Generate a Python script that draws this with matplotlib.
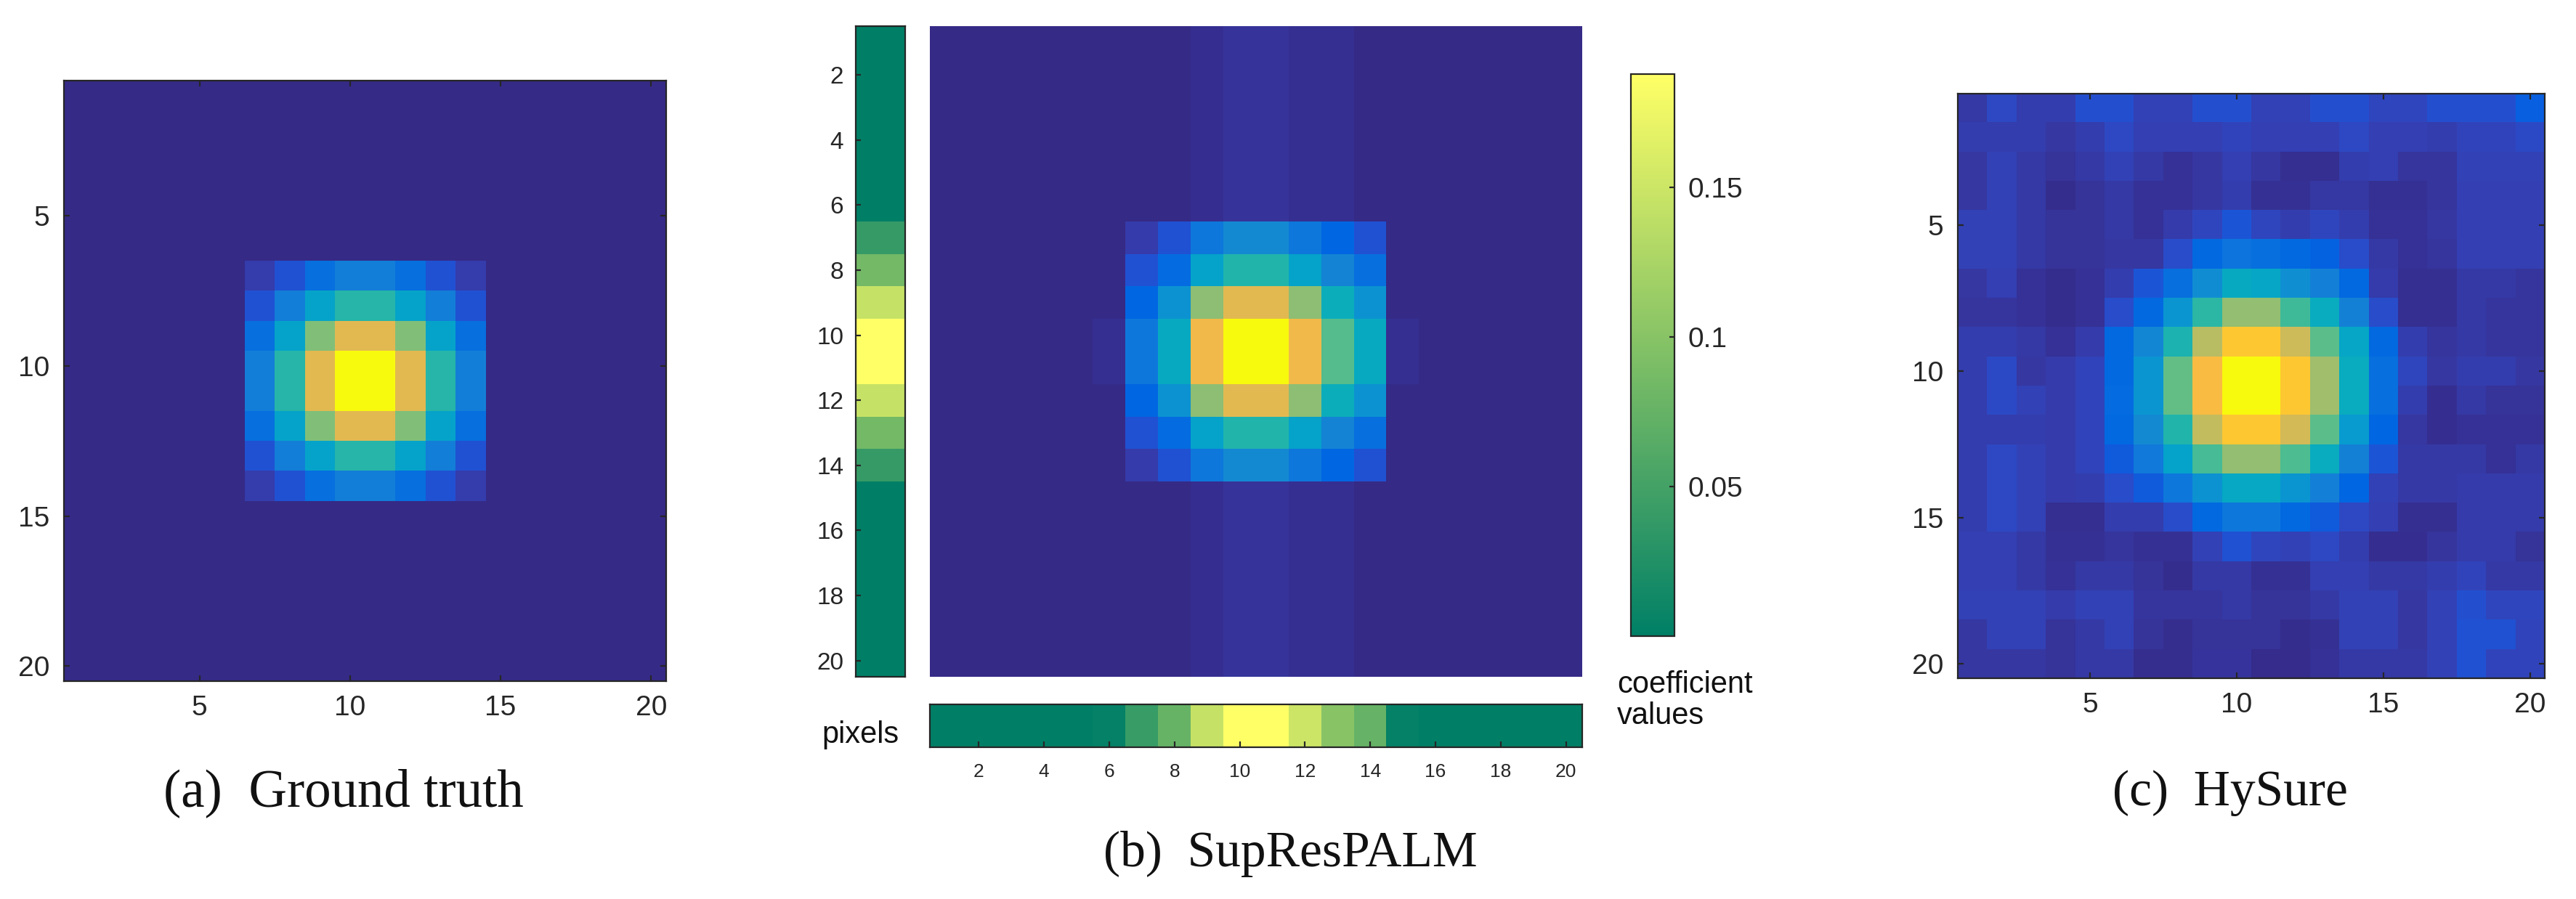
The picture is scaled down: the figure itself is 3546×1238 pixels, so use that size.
import numpy as np
import matplotlib
matplotlib.use('Agg')
import matplotlib.pyplot as plt
from matplotlib.colors import LinearSegmentedColormap

plt.rcParams['font.family'] = ['Liberation Sans', 'DejaVu Sans']

# MATLAB parula colours
parula_rgb = [
    [0.2081, 0.1663, 0.5292], [0.2116, 0.1898, 0.5777], [0.2123, 0.2138, 0.6270], [0.2081, 0.2386, 0.6771],
    [0.1959, 0.2645, 0.7279], [0.1707, 0.2919, 0.7792], [0.1253, 0.3242, 0.8303], [0.0591, 0.3598, 0.8683],
    [0.0117, 0.3875, 0.8820], [0.0060, 0.4086, 0.8828], [0.0165, 0.4266, 0.8786], [0.0329, 0.4430, 0.8720],
    [0.0498, 0.4586, 0.8641], [0.0629, 0.4737, 0.8554], [0.0723, 0.4887, 0.8467], [0.0779, 0.5040, 0.8384],
    [0.0793, 0.5200, 0.8312], [0.0749, 0.5375, 0.8263], [0.0641, 0.5570, 0.8240], [0.0488, 0.5772, 0.8228],
    [0.0343, 0.5966, 0.8199], [0.0265, 0.6137, 0.8135], [0.0239, 0.6287, 0.8038], [0.0231, 0.6418, 0.7913],
    [0.0228, 0.6535, 0.7768], [0.0267, 0.6642, 0.7607], [0.0384, 0.6743, 0.7436], [0.0590, 0.6838, 0.7254],
    [0.0843, 0.6928, 0.7062], [0.1133, 0.7015, 0.6859], [0.1453, 0.7098, 0.6646], [0.1801, 0.7177, 0.6424],
    [0.2178, 0.7250, 0.6193], [0.2586, 0.7317, 0.5954], [0.3022, 0.7376, 0.5712], [0.3482, 0.7424, 0.5473],
    [0.3953, 0.7459, 0.5244], [0.4420, 0.7481, 0.5033], [0.4871, 0.7491, 0.4840], [0.5300, 0.7491, 0.4661],
    [0.5709, 0.7485, 0.4494], [0.6099, 0.7473, 0.4337], [0.6473, 0.7456, 0.4188], [0.6834, 0.7435, 0.4044],
    [0.7184, 0.7411, 0.3905], [0.7525, 0.7384, 0.3768], [0.7858, 0.7356, 0.3633], [0.8185, 0.7327, 0.3498],
    [0.8507, 0.7299, 0.3360], [0.8824, 0.7274, 0.3217], [0.9139, 0.7258, 0.3063], [0.9450, 0.7261, 0.2886],
    [0.9739, 0.7314, 0.2666], [0.9938, 0.7455, 0.2403], [0.9990, 0.7653, 0.2164], [0.9955, 0.7861, 0.1967],
    [0.9880, 0.8066, 0.1794], [0.9789, 0.8271, 0.1633], [0.9697, 0.8481, 0.1475], [0.9626, 0.8705, 0.1309],
    [0.9589, 0.8949, 0.1132], [0.9598, 0.9218, 0.0948], [0.9661, 0.9514, 0.0755], [0.9763, 0.9831, 0.0538],
]
parula = LinearSegmentedColormap.from_list('parula', parula_rgb, N=512)

# ground truth, rows 7-14 / columns 7-14, the rest is zero
truth_block = [
    [.048, .095, .17, .23, .23, .17, .095, .048],
    [.095, .23, .365, .48, .48, .365, .23, .095],
    [.17, .365, .61, .78, .78, .61, .365, .17],
    [.23, .48, .78, 1, 1, .78, .48, .23],
    [.23, .48, .78, 1, 1, .78, .48, .23],
    [.17, .365, .61, .78, .78, .61, .365, .17],
    [.095, .23, .365, .48, .48, .365, .23, .095],
    [.048, .095, .17, .23, .23, .17, .095, .048],
]

# SupResPALM: faint vertical band per column, then the block, rows 7-14 / columns 6-15
palm_band = [0, 0, 0, 0, 0, 0, 0, 0, .012, .027, .027, .014, .014, 0, 0, 0, 0, 0, 0, 0]
palm_block = [
    [0, .045, .095, .20, .27, .27, .20, .14, .095, 0],
    [0, .095, .16, .36, .47, .47, .36, .25, .17, 0],
    [0, .14, .30, .63, .78, .78, .63, .42, .30, 0],
    [.015, .20, .40, .81, 1, 1, .81, .55, .40, .015],
    [.015, .20, .40, .81, 1, 1, .81, .55, .40, .015],
    [0, .14, .30, .63, .78, .78, .63, .42, .30, 0],
    [0, .095, .16, .36, .47, .47, .36, .25, .17, 0],
    [0, .045, .095, .20, .27, .27, .20, .14, .095, 0],
]
spectral_left = [0, 0, 0, 0, 0, 0, .04, .085, .146, .188, .188, .146, .085, .04, 0, 0, 0, 0, 0, 0]
spectral_bottom = [0, 0, 0, 0, 0, .003, .042, .076, .146, .188, .188, .15, .10, .075, .003, 0, 0, 0, 0, 0]

hysure = [
    [.04, .075, .05, .05, .09, .09, .06, .06, .09, .09, .06, .06, .09, .09, .07, .07, .09, .09, .09, .12],
    [.05, .05, .05, .035, .05, .075, .055, .055, .055, .065, .055, .055, .055, .075, .055, .055, .05, .065, .065, .08],
    [.035, .06, .04, .025, .04, .06, .04, .02, .035, .055, .035, .015, .015, .05, .055, .03, .03, .06, .06, .06],
    [.035, .06, .04, .008, .025, .04, .02, .02, .035, .05, .018, .018, .036, .036, .018, .018, .03, .055, .055, .055],
    [.06, .06, .04, .025, .025, .04, .02, .045, .07, .10, .07, .05, .07, .05, .02, .02, .035, .055, .055, .055],
    [.06, .06, .04, .025, .025, .035, .035, .085, .15, .19, .17, .15, .125, .085, .04, .02, .03, .055, .055, .055],
    [.035, .055, .02, .008, .02, .05, .10, .17, .285, .40, .38, .29, .235, .15, .045, .015, .015, .04, .04, .03],
    [.03, .03, .02, .008, .02, .085, .15, .31, .49, .64, .64, .52, .41, .24, .085, .015, .015, .04, .03, .03],
    [.05, .05, .04, .02, .045, .15, .26, .46, .70, .87, .87, .74, .56, .38, .15, .05, .03, .04, .03, .03],
    [.05, .08, .035, .045, .065, .15, .31, .57, .83, 1, 1, .87, .66, .41, .17, .07, .035, .05, .05, .035],
    [.05, .08, .06, .045, .065, .16, .31, .57, .83, 1, 1, .87, .66, .41, .17, .05, .012, .04, .025, .025],
    [.05, .05, .05, .045, .065, .15, .27, .47, .72, .87, .87, .75, .56, .33, .14, .035, .012, .02, .02, .02],
    [.05, .075, .06, .045, .065, .11, .21, .36, .53, .64, .64, .54, .41, .24, .10, .04, .04, .04, .02, .04],
    [.05, .075, .06, .045, .05, .085, .11, .20, .30, .39, .39, .31, .235, .14, .06, .04, .04, .045, .045, .045],
    [.05, .075, .06, .015, .015, .05, .05, .085, .15, .20, .20, .15, .11, .075, .055, .015, .015, .045, .045, .045],
    [.055, .055, .04, .018, .018, .03, .018, .018, .06, .095, .07, .06, .075, .05, .012, .012, .03, .045, .045, .025],
    [.055, .055, .04, .02, .04, .04, .025, .008, .04, .04, .018, .018, .055, .055, .04, .04, .05, .065, .04, .04],
    [.06, .06, .06, .045, .06, .06, .03, .03, .03, .04, .025, .025, .04, .06, .06, .035, .06, .09, .07, .07],
    [.035, .06, .06, .025, .04, .06, .025, .01, .025, .025, .025, .008, .018, .06, .06, .035, .06, .095, .095, .065],
    [.035, .035, .035, .025, .04, .04, .01, .01, .028, .028, .006, .006, .02, .04, .04, .04, .06, .095, .065, .065],
]

ticks_5 = [5, 10, 15, 20]
ticks_2 = [2, 4, 6, 8, 10, 12, 14, 16, 18, 20]
cbar_ticks = [0.05, 0.1, 0.15]
cbar_labels = ['0.05', '0.1', '0.15']
captions = ['(a)  Ground truth', '(b)  SupResPALM', '(c)  HySure']

W, H = 3546, 1238
DARK = '#262626'
fig = plt.figure(figsize=(W / 100, H / 100), dpi=100)


def box(x0, y0, x1, y1):
    # pixel box from the reference to an axes
    return fig.add_axes([x0 / W, 1 - y1 / H, (x1 - x0) / W, (y1 - y0) / H])


def heat(ax, data, cmap, vmin, vmax):
    im = ax.imshow(data, cmap=cmap, vmin=vmin, vmax=vmax, aspect='auto', interpolation='nearest',
                   extent=[0.5, np.shape(data)[1] + 0.5, np.shape(data)[0] + 0.5, 0.5])
    for s in ax.spines.values():
        s.set_color(DARK)
        s.set_linewidth(1.6)
    return im


def square_panel(ax, data):
    heat(ax, data, parula, 0, 1)
    ax.set_xticks(ticks_5)
    ax.set_yticks(ticks_5)
    ax.tick_params(direction='in', length=5.5, width=1.6, color=DARK, labelcolor=DARK, labelsize=28,
                   top=True, right=True, pad=14)


# (a)
truth = np.zeros((20, 20))
truth[6:14, 6:14] = truth_block
ax_a = box(88, 111, 917, 938)
square_panel(ax_a, truth)

# (b)
palm = np.tile(palm_band, (20, 1))
block = np.array(palm_block)
palm[6:14, 5:15] = np.where(block > 0, block, palm[6:14, 5:15])
ax_b = box(1280, 36, 2178, 932)
heat(ax_b, palm, parula, 0, 1)
ax_b.set_xticks([])
ax_b.set_yticks([])
for s in ax_b.spines.values():
    s.set_visible(False)

ax_l = box(1178, 36, 1246, 932)
heat(ax_l, np.array(spectral_left).reshape(20, 1), 'summer', 0, 0.188)
ax_l.set_xticks([])
ax_l.set_yticks(ticks_2)
ax_l.tick_params(direction='in', length=5, width=1.6, color=DARK, labelcolor=DARK, labelsize=24, pad=12)

ax_d = box(1280, 970, 2178, 1029)
heat(ax_d, np.array(spectral_bottom).reshape(1, 20), 'summer', 0, 0.188)
ax_d.set_yticks([])
ax_d.set_xticks(ticks_2)
ax_d.tick_params(direction='in', length=6, width=1.6, color=DARK, labelcolor=DARK, labelsize=19, pad=16)

ax_c = box(2245, 102, 2305, 876)
sm = plt.cm.ScalarMappable(norm=plt.Normalize(0, 0.188), cmap='summer')
cb = fig.colorbar(sm, cax=ax_c)
cb.set_ticks(cbar_ticks, labels=cbar_labels)
cb.ax.tick_params(direction='in', length=5, width=1.6, color=DARK, labelcolor=DARK, labelsize=28, pad=13)
cb.outline.set_edgecolor(DARK)
cb.outline.set_linewidth(1.6)

fig.text(1131 / W, 1 - 1012 / H, 'pixels', fontsize=30, color='#111111', ha='left', va='center')
fig.text(2226 / W, 1 - 943 / H, 'coefficient', fontsize=30, color='#111111', ha='left', va='center')
fig.text(2226 / W, 1 - 986 / H, 'values', fontsize=30, color='#111111', ha='left', va='center')

# (c)
ax_h = box(2695, 129, 3503, 934)
square_panel(ax_h, hysure)

serif = ['Liberation Serif', 'DejaVu Serif']
fig.text(473 / W, 1 - 1092 / H, captions[0], fontsize=52.5, family=serif, ha='center', va='center', color='#111111')
fig.text(1776 / W, 1 - 1176 / H, captions[1], fontsize=50, family=serif, ha='center', va='center', color='#111111')
fig.text(3070 / W, 1 - 1092 / H, captions[2], fontsize=50, family=serif, ha='center', va='center', color='#111111')

fig.savefig('out.png', dpi=100)
